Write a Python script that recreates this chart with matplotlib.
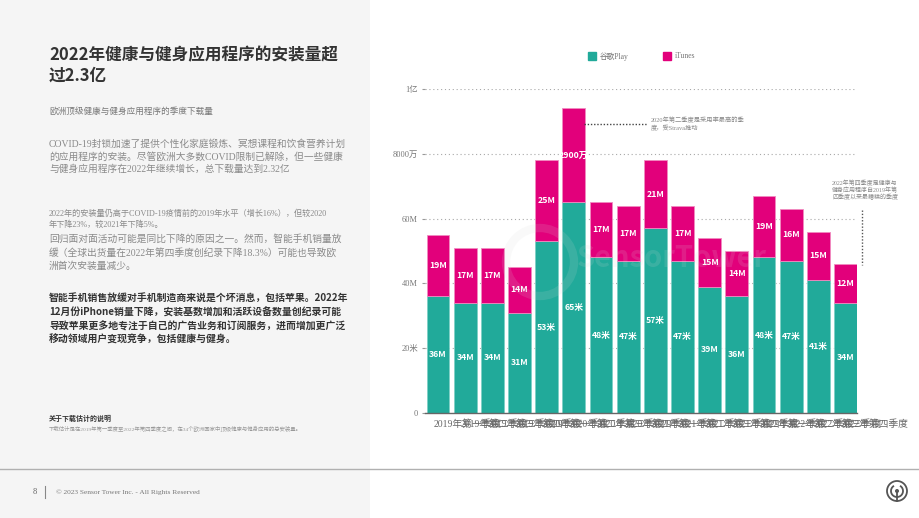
import matplotlib.pyplot as plt
import matplotlib.patches as mpatches
import numpy as np

# ==========================================
# DATA
# ==========================================

QUARTERS = [
    "2019年第一季度", "2019年第二季度", "2019年第三季度", "2019年第四季度",
    "2020年第一季度", "2020年第二季度", "2020年第三季度", "2020年第四季度",
    "2021年第一季度", "2021年第二季度", "2021年第三季度", "2021年第四季度",
    "2022年第一季度", "2022年第二季度", "2022年第三季度", "2022年第四季度",
]

GOOGLE = [36, 34, 34, 31, 53, 65, 48, 47, 57, 47, 39, 36, 48, 47, 41, 34]
ITUNES = [19, 17, 17, 14, 25, 29, 17, 17, 21, 17, 15, 14, 19, 16, 15, 12]

GOOGLE_LABELS = ["36M", "34M", "34M", "31M", "53米", "65米", "48米", "47米",
                 "57米", "47米", "39M", "36M", "48米", "47米", "41米", "34M"]
ITUNES_LABELS = ["19M", "17M", "17M", "14M", "25M", "2900万", "17M", "17M",
                 "21M", "17M", "15M", "14M", "19M", "16M", "15M", "12M"]

Y_TICKS = [0, 20, 40, 60, 80, 100]
Y_TICK_LABELS = ["0", "20米", "40M", "60M", "8000万", "1亿"]

GREEN = "#21aa9a"
PINK = "#e2007b"

SERIF = ["Liberation Serif", "Noto Sans CJK SC"]
SANS = ["Noto Sans CJK SC", "DejaVu Sans"]

plt.rcParams["font.family"] = SANS

# ==========================================
# FIGURE + PIXEL OVERLAYS
# ==========================================

fig = plt.figure(figsize=(9.2, 5.18), dpi=100)
fig.patch.set_facecolor("white")

bg = fig.add_axes([0, 0, 1, 1], zorder=0)
bg.set_xlim(0, 920)
bg.set_ylim(518, 0)
bg.axis("off")

bg.add_patch(mpatches.Rectangle((0, 0), 370, 518, color="#f5f5f5", lw=0))
bg.plot([0, 920], [469, 469], color="#b0b0b0", lw=1)

# ==========================================
# LEFT TEXT PANEL
# ==========================================

bg.text(49, 55, "2022年健康与健身应用程序的安装量超", fontsize=12, fontweight="bold",
        color="#333333", va="center", family=SANS)
bg.text(49, 76, "过2.3亿", fontsize=12, fontweight="bold", color="#333333",
        va="center", family=SANS)

bg.text(49, 111, "欧洲顶级健康与健身应用程序的季度下载量", fontsize=6.2,
        color="#777777", va="center", family=SERIF)

para1 = ["COVID-19封锁加速了提供个性化家庭锻炼、冥想课程和饮食营养计划",
         "的应用程序的安装。尽管欧洲大多数COVID限制已解除，但一些健康",
         "与健身应用程序在2022年继续增长，总下载量达到2.32亿"]
for i, line in enumerate(para1):
    bg.text(49, 144 + i * 12.6, line, fontsize=7, color="#8a8a8a",
            va="center", family=SERIF)

para2 = ["2022年的安装量仍高于COVID-19疫情前的2019年水平（增长16%），但较2020",
         "年下降23%，较2021年下降5%。"]
for i, line in enumerate(para2):
    bg.text(49, 214 + i * 11, line, fontsize=5.9, color="#8a8a8a",
            va="center", family=SERIF)

para3 = ["回归面对面活动可能是同比下降的原因之一。然而，智能手机销量放",
         "缓（全球出货量在2022年第四季度创纪录下降18.3%）可能也导致欧",
         "洲首次安装量减少。"]
for i, line in enumerate(para3):
    bg.text(49, 239 + i * 13.5, line, fontsize=7, color="#8a8a8a",
            va="center", family=SERIF)

para4 = ["智能手机销售放缓对手机制造商来说是个坏消息，包括苹果。2022年",
         "12月份iPhone销量下降，安装基数增加和活跃设备数量创纪录可能",
         "导致苹果更多地专注于自己的广告业务和订阅服务，进而增加更广泛",
         "移动领域用户变现竞争，包括健康与健身。"]
for i, line in enumerate(para4):
    bg.text(49, 299 + i * 13.6, line, fontsize=7.1, fontweight="bold",
            color="#333333", va="center", family=SANS)

bg.text(49, 418, "关于下载估计的说明", fontsize=5, fontweight="bold",
        color="#333333", va="center", family=SANS)
bg.text(49, 429, "下载估计是在2019年第一季度至2022年第四季度之间，在34个欧洲国家中顶级健康与健身应用的总安装量。",
        fontsize=3.9, color="#999999", va="center", family=SERIF)

# footer
bg.text(33, 492, "8", fontsize=6, color="#666666", va="center", family=SERIF)
bg.plot([45, 45], [486, 498], color="#888888", lw=0.8)
bg.text(56, 492, "© 2023 Sensor Tower Inc. - All Rights Reserved", fontsize=5.3,
        color="#777777", va="center", family=SERIF)

# logo
bg.add_patch(mpatches.Circle((897, 491), 10, fill=False, ec="#555555", lw=1.3))
bg.add_patch(mpatches.Arc((897, 491), 12, 12, theta1=-60, theta2=240, ec="#555555", lw=1.3))
bg.plot([897, 897], [491, 501], color="#555555", lw=1.3)
bg.add_patch(mpatches.Circle((897, 491), 1.3, color="#555555"))

# ==========================================
# CHART
# ==========================================

ax = fig.add_axes([425 / 920, 1 - 413 / 518, 432 / 920, 324 / 518], zorder=1)
ax.patch.set_alpha(0)

x = np.arange(len(QUARTERS))
width = 0.84

ax.set_axisbelow(True)
ax.yaxis.grid(True, linestyle=(0, (1, 2.5)), color="#a8a8a8", lw=0.8)

g_bars = ax.bar(x, GOOGLE, width, color=GREEN, edgecolor="#7fd0c6", lw=0.6)
i_bars = ax.bar(x, ITUNES, width, bottom=GOOGLE, color=PINK, edgecolor="#f08cc0", lw=0.6)

for i in range(len(x)):
    ax.text(x[i], GOOGLE[i] / 2, GOOGLE_LABELS[i], ha="center", va="center",
            color="white", fontsize=6.3, fontweight="bold", family=SANS)
    t = ax.text(x[i], GOOGLE[i] + ITUNES[i] / 2, ITUNES_LABELS[i], ha="center",
                va="center", color="white", fontsize=6.3, fontweight="bold", family=SANS)
    t.set_clip_path(i_bars[i])

for i, q in enumerate(QUARTERS):
    ax.text(x[i] - 0.18, -0.035, q, transform=ax.get_xaxis_transform(), ha="left",
            va="center", fontsize=7, color="#666666", family=SERIF)

ax.set_xlim(-0.48, 15.42)
ax.set_ylim(0, 100)
ax.set_xticks([])
ax.set_yticks(Y_TICKS)
ax.set_yticklabels(Y_TICK_LABELS, family=SERIF, fontsize=6, color="#777777")
ax.tick_params(axis="y", length=2, color="#999999", pad=3)

for s in ["top", "right", "left"]:
    ax.spines[s].set_visible(False)
ax.spines["bottom"].set_color("#666666")
ax.spines["bottom"].set_linewidth(1)

# ==========================================
# LEGEND + ANNOTATIONS + WATERMARK
# ==========================================

fg = fig.add_axes([0, 0, 1, 1], zorder=2)
fg.set_xlim(0, 920)
fg.set_ylim(518, 0)
fg.axis("off")

fg.add_patch(mpatches.Rectangle((588, 52), 8, 8, color=GREEN))
fg.text(600, 56.5, "谷歌Play", fontsize=5.5, color="#777777", va="center", family=SERIF)
fg.add_patch(mpatches.Rectangle((663, 52), 8, 8, color=PINK))
fg.text(675, 56.5, "iTunes", fontsize=5.5, color="#777777", va="center", family=SERIF)

fg.plot([584, 647], [124, 124], color="#444444", lw=1, linestyle=(0, (1, 1.3)))
fg.text(651, 120, "2020年第二季度是采用率最高的季", fontsize=4.5, color="#888888",
        va="center", family=SERIF)
fg.text(651, 128, "度，受Strava推动", fontsize=4.5, color="#888888", va="center", family=SERIF)

fg.plot([862, 862], [210, 265], color="#555555", lw=1, linestyle=(0, (1, 1.3)))
note2 = ["2022年第四季度是健康与", "健身应用程序自2019年第", "四季度以来最糟糕的季度"]
for i, line in enumerate(note2):
    fg.text(832, 183 + i * 7, line, fontsize=4.3, color="#888888", va="center",
            family=SERIF)

fg.add_patch(mpatches.Circle((540, 262), 34, fill=False, ec="#d8d8d8", lw=6, alpha=0.14))
fg.text(577, 258, "SensorTower", fontsize=21, fontweight="bold", color="#d8d8d8",
        alpha=0.14, va="center", family=SANS)

plt.savefig("out.png", dpi=100)
